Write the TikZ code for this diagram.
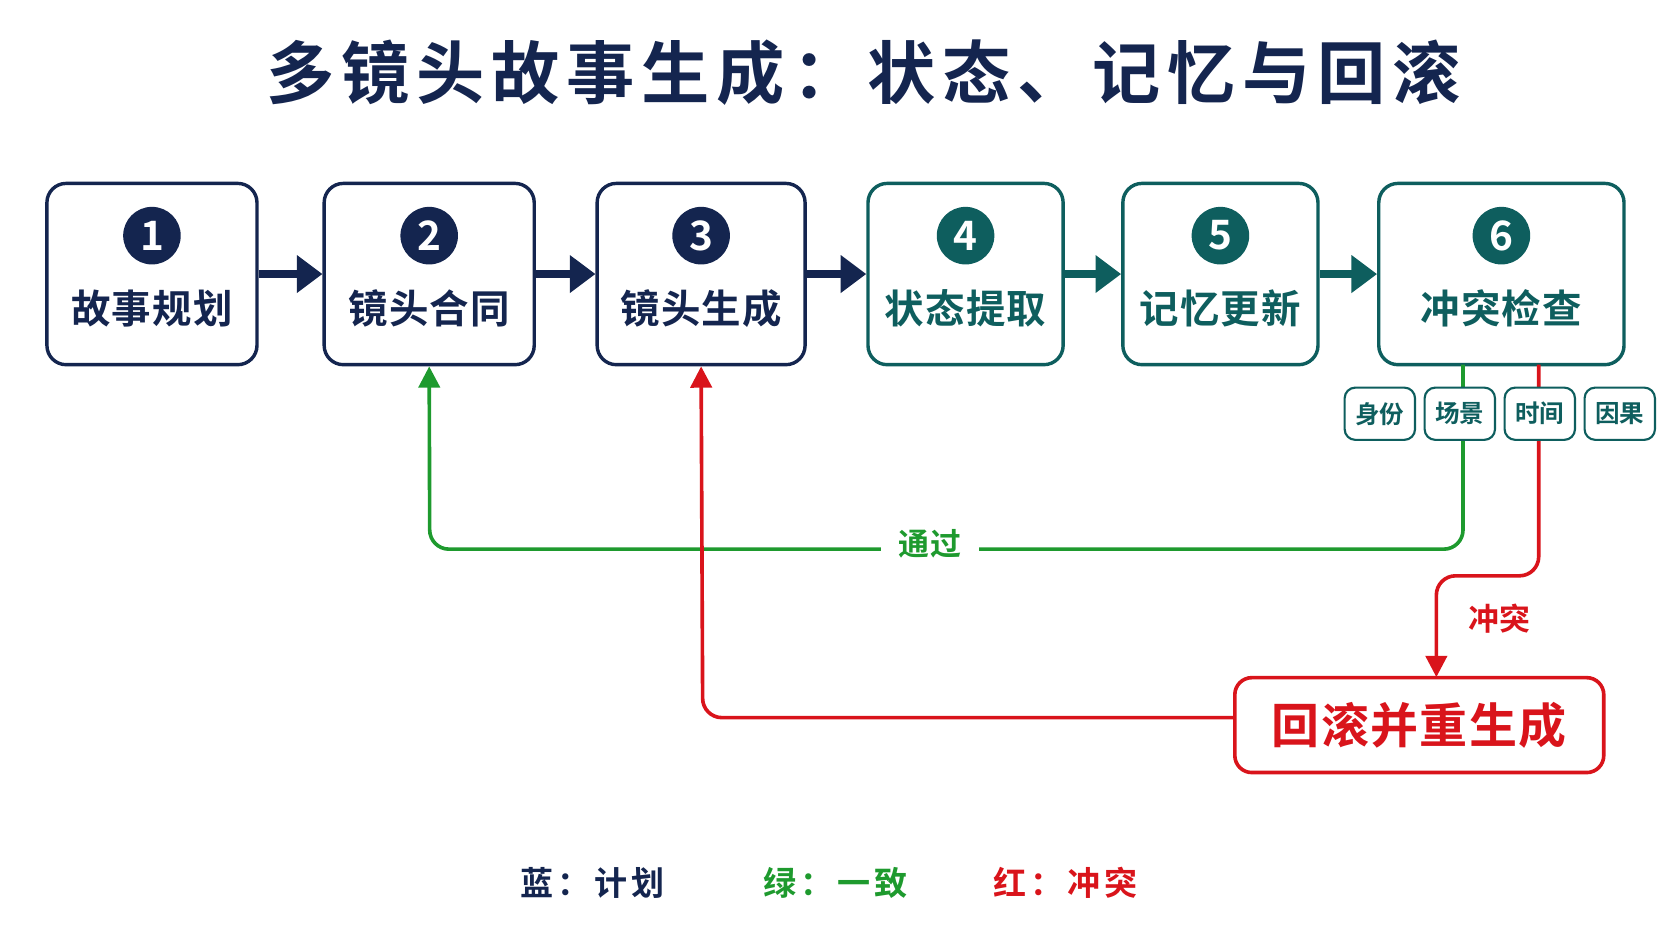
\documentclass[tikz,border=0pt]{standalone}
\usepackage{fontspec}
\setmainfont{Noto Sans CJK SC Bold}
\usetikzlibrary{arrows.meta}
\definecolor{navy}{HTML}{14254F}
\definecolor{teal}{HTML}{0E5E5E}
\definecolor{grn}{HTML}{1E9A2E}
\definecolor{rd}{HTML}{D9141B}
\begin{document}
\begin{tikzpicture}[x=0.5pt,y=-0.5pt,
  box/.style={draw=#1,line width=1.6pt,rounded corners=9pt,fill=white,inner sep=0pt},
  num/.style={circle,fill=#1,text=white,minimum size=27pt,inner sep=0pt,font=\fontsize{19}{19}\selectfont},
  lbl/.style={text=#1,font=\fontsize{18.5}{18}\selectfont\addfontfeature{LetterSpace=3}},
  tag/.style={draw=teal,line width=1pt,rounded corners=5pt,fill=white,minimum width=33pt,minimum height=24.5pt,inner sep=0pt,text=teal,font=\fontsize{11.5}{12}\selectfont},
  flow/.style={line width=4pt,-{Triangle[length=12pt,width=17pt]}},
  loop/.style={line width=1.7pt,rounded corners=9pt,-{Triangle[length=10pt,width=10pt]}},
  leg/.style={text=#1,font=\fontsize{15.5}{15}\selectfont\addfontfeature{LetterSpace=12}}]
\useasboundingbox (0,0) rectangle (1568,882);
\node[text=navy,font=\fontsize{32}{32}\selectfont\addfontfeature{LetterSpace=10}] (title) at (810,68) {多镜头故事生成：状态、记忆与回滚};
% boxes
\foreach \n/\xa/\xb/\c/\t in {1/44/241/navy/故事规划,2/304/501/navy/镜头合同,3/560/755/navy/镜头生成,4/814/997/teal/状态提取,5/1053/1236/teal/记忆更新,6/1293/1523/teal/冲突检查}{
  \node[box=\c,minimum width={(\xb-\xa)*0.5pt},minimum height=85pt] (b\n) at ({(\xa+\xb)/2},257) {};
  \node[num=\c] (n\n) at ({(\xa+\xb)/2},221) {\n};
  \node[lbl=\c] (t\n) at ({(\xa+\xb)/2},289) {\t};
}
\draw[flow,navy] (b1) -- (b2);
\draw[flow,navy] (b2) -- (b3);
\draw[flow,navy] (b3) -- (b4);
\draw[flow,teal] (b4) -- (b5);
\draw[flow,teal] (b5) -- (b6);
% rollback box
\node[draw=rd,line width=1.7pt,rounded corners=8pt,fill=white,minimum width=173pt,minimum height=44.5pt,text=rd,font=\fontsize{22.5}{22}\selectfont\addfontfeature{LetterSpace=3}] (rb) at (1331,680) {回滚并重生成};
% loops
\coordinate (gs) at (1372,342);
\coordinate (rs) at (1443,342);
\draw[loop,grn] (gs) -- (1372,515) -- (403,515) -- (b2.south);
\draw[loop,rd] (rs) -- (1443,540) -- (1347,540) -- (1347,635);
\draw[loop,rd] (rb.west |- 0,673) -- (659,673) -- (b3.south);
\node[fill=white,text=grn,font=\fontsize{14.5}{14}\selectfont\addfontfeature{LetterSpace=5},inner xsep=8pt] (pass) at (872,510) {通过};
\node[text=rd,font=\fontsize{14.5}{14}\selectfont] (conf) at (1406,580) {冲突};
% tags
\node[tag] (g1) at (1294,388) {身份};
\node[tag] (g2) at (1369,388) {场景};
\node[tag] (g3) at (1444,388) {时间};
\node[tag] (g4) at (1519,388) {因果};
% legend
\node[leg=navy] (l1) at (556,828) {蓝：计划};
\node[leg=grn] (l2) at (784,828) {绿：一致};
\node[leg=rd] (l3) at (999,828) {红：冲突};
\end{tikzpicture}
\end{document}
